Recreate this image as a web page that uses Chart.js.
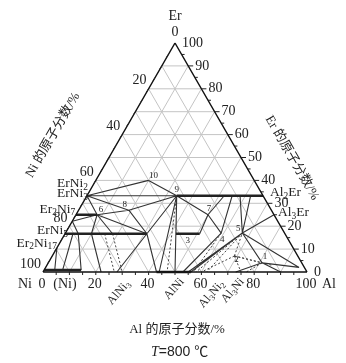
<!DOCTYPE html>
<html>
<head>
<meta charset="utf-8">
<script src="https://cdn.jsdelivr.net/npm/chart.js@4.4.0/dist/chart.umd.min.js"></script>
<style>
  html, body { margin: 0; padding: 0; background: #fff; }
  #wrap { width: 346px; height: 363px; }
</style>
</head>
<body>
<div id="wrap"><canvas id="chart"></canvas></div>
<script>
// compositions are [Al, Er] in at.%  (Ni = 100 - Al - Er)
const gridSteps = [10, 20, 30, 40, 50, 60, 70, 80, 90];
const minorTicks = [5, 10, 15, 20, 25, 30, 35, 40, 45, 50, 55, 60, 65, 70, 75, 80, 85, 90, 95];
const erTicks = [100, 90, 80, 70, 60, 50, 40, 30, 20, 10, 0];
const niTicks = [20, 40, 60, 80, 100];
const alTicks = [0, 20, 40, 60, 80, 100];

const erNiPhases = [['ErNi2', 33.3], ['ErNi3', 25], ['Er2Ni7', 22.2], ['ErNi5', 16.7], ['Er2Ni17', 10.5]];
const alErPhases = [['Al2Er', 33.3], ['Al3Er', 25]];
const alNiPhases = [['AlNi3', 25], ['AlNi', 50], ['Al3Ni2', 60], ['Al3Ni', 75]];

const ternaryPoints = [
  ['10', 20, 40], ['9', 34, 33.3], ['8', 19, 27], ['6', 8, 25], ['7', 50, 25],
  ['3', 46.5, 16.7], ['4', 59, 17], ['5', 67, 17], ['2', 69, 7], ['1', 81, 4]
];

// single-phase ranges (heavy lines)
const thickLines = [
  [[0, 16.7], [31, 16.7]],
  [[0, 25], [8, 25]],
  [[34, 33.3], [66.7, 33.3]],
  [[42, 16.7], [51, 16.7]],
  [[43, 0], [56, 0]],
  [[0, 0.9], [14, 0.9]]
];

// phase boundaries
const solidLines = [
  [[0, 33.3], [20, 40]],
  [[20, 40], [34, 33.3]],
  [[0, 33.3], [34, 33.3]],
  [[0, 33.3], [19, 27]],
  [[19, 27], [34, 33.3]],
  [[8, 25], [19, 27]],
  [[0, 33.3], [8, 25]],
  [[19, 27], [31, 16.7]],
  [[8, 25], [31, 16.7]],
  [[8, 25], [10, 16.7]],
  [[8, 25], [18, 16.7]],
  [[0, 22.2], [8, 25]],
  [[0, 22.2], [5, 16.7]],
  [[31, 16.7], [34, 33.3]],
  [[0, 10.5], [4, 0.9]],
  [[3, 16.7], [7, 0.9]],
  [[5, 16.7], [14, 0.9]],
  [[10, 16.7], [22, 0]],
  [[31, 16.7], [28, 0]],
  [[31, 16.7], [43, 0]],
  [[42, 16.7], [34, 33.3]],
  [[34, 33.3], [44, 0]],
  [[34, 33.3], [50, 0]],
  [[51, 16.7], [50, 25]],
  [[34, 33.3], [50, 25]],
  [[50, 25], [59, 17]],
  [[50, 25], [52, 33.3]],
  [[59, 17], [55, 33.3]],
  [[67, 17], [58, 33.3]],
  [[67, 17], [62, 33.3]],
  [[67, 17], [75, 25]],
  [[59, 17], [53, 0]],
  [[67, 17], [55, 0]],
  [[67, 17], [56, 0]],
  [[67, 17], [81, 4]],
  [[67, 17], [96, 2]],
  [[81, 4], [73, 0]],
  [[81, 4], [96, 2]],
  [[81, 4], [90, 0]]
];

// tie lines
const dottedLines = [
  [[15, 16.7], [27, 0]],
  [[18, 16.7], [30, 0]],
  [[34, 33.3], [47, 0]],
  [[67, 17], [58, 0]],
  [[67, 17], [62, 0]],
  [[69, 7], [60, 0]],
  [[69, 7], [75, 0]],
  [[69, 7], [67, 17]],
  [[69, 7], [81, 4]],
  [[81, 4], [77, 0]],
  [[69, 7], [85, 3]],
  [[59, 17], [57, 0]]
];

const H = Math.sqrt(3) / 2;
const toXY = p => ({ x: p[0] + p[1] / 2, y: p[1] * H });

function segData(segs) {
  const out = [];
  segs.forEach(s => {
    s.forEach(p => out.push(toXY(p)));
    out.push({ x: NaN, y: NaN });
  });
  return out;
}

let gridSegs = [];
gridSteps.forEach(v => {
  gridSegs.push([[0, v], [100 - v, v]]);
  gridSegs.push([[v, 0], [v, 100 - v]]);
  gridSegs.push([[100 - v, 0], [0, 100 - v]]);
});
const border = [[[0, 0], [100, 0]], [[100, 0], [0, 100]], [[0, 100], [0, 0]]];

function lineSet(segs, color, width, dash, order) {
  return {
    data: segData(segs),
    showLine: true,
    borderColor: color,
    borderWidth: width,
    borderDash: dash,
    pointRadius: 0,
    spanGaps: false,
    clip: false,
    order: order
  };
}

const SERIF = '"Liberation Serif", "DejaVu Serif", serif';

function chemText(ctx, str, x, y, size, align) {
  const parts = str.match(/[A-Za-z]+|\d+/g);
  let w = 0;
  parts.forEach(p => {
    const sub = /\d/.test(p);
    ctx.font = (sub ? size * 0.7 : size) + 'px ' + SERIF;
    w += ctx.measureText(p).width;
  });
  let cx = align === 'right' ? x - w : align === 'center' ? x - w / 2 : x;
  ctx.textAlign = 'left';
  ctx.textBaseline = 'middle';
  parts.forEach(p => {
    const sub = /\d/.test(p);
    ctx.font = (sub ? size * 0.7 : size) + 'px ' + SERIF;
    ctx.fillText(p, cx, sub ? y + size * 0.28 : y);
    cx += ctx.measureText(p).width;
  });
}

const labelPlugin = {
  id: 'labels',
  afterDraw(chart) {
    const ctx = chart.ctx;
    const xs = chart.scales.x, ys = chart.scales.y;
    const px = p => { const c = toXY(p); return [xs.getPixelForValue(c.x), ys.getPixelForValue(c.y)]; };
    ctx.save();
    ctx.fillStyle = '#222';
    ctx.strokeStyle = '#222';
    ctx.lineWidth = 1;

    // edge ticks
    minorTicks.forEach(v => {
      const long = v % 10 === 0;
      let [x, y] = px([100 - v, v]);
      ctx.beginPath(); ctx.moveTo(x, y); ctx.lineTo(x + (long ? 5 : 3), y); ctx.stroke();
      [x, y] = px([0, 100 - v]);
      ctx.beginPath(); ctx.moveTo(x, y); ctx.lineTo(x - 2, y + 3); ctx.stroke();
      [x, y] = px([v, 0]);
      ctx.beginPath(); ctx.moveTo(x, y); ctx.lineTo(x, y + 3); ctx.stroke();
    });

    ctx.font = '14px ' + SERIF;
    ctx.textBaseline = 'middle';
    // Er axis (right)
    ctx.textAlign = 'left';
    erTicks.forEach(v => {
      const [x, y] = px([100 - v, v]);
      ctx.fillText(String(v), x + 7, y);
    });
    // Ni axis (left)
    ctx.textAlign = 'right';
    niTicks.forEach(v => {
      const [x, y] = px([0, 100 - v]);
      ctx.fillText(String(v), x - 2, y - 8);
    });
    ctx.textAlign = 'center';
    let [ax, ay] = px([0, 100]);
    ctx.fillText('0', ax, ay - 11);
    ctx.fillText('Er', ax, ay - 27);
    // Al axis (bottom)
    alTicks.forEach(v => {
      const [x, y] = px([v, 0]);
      ctx.fillText(String(v), x - 1, y + 12);
    });
    let [nx, ny] = px([0, 0]);
    ctx.fillText('Ni', nx - 18, ny + 12);
    ctx.fillText('(Ni)', nx + 22, ny + 12);
    let [lx, ly] = px([100, 0]);
    ctx.fillText('Al', lx + 22, ly + 12);

    // phase labels
    const erNiOff = [[1, -12], [12, -21], [3, -12], [3, -3], [0, -5]];
    erNiPhases.forEach((p, i) => {
      const [x, y] = px([0, p[1]]);
      chemText(ctx, p[0], x + erNiOff[i][0], y + erNiOff[i][1], 13.5, 'right');
    });
    const alErOff = [[7, -3], [4, -2]];
    alErPhases.forEach((p, i) => {
      const [x, y] = px([100 - p[1], p[1]]);
      chemText(ctx, p[0], x + alErOff[i][0], y + alErOff[i][1], 13.5, 'left');
    });
    const alNiOff = [[19, 10], [7, 8], [21, 10], [1, 8]];
    alNiPhases.forEach((p, i) => {
      const [x, y] = px([p[1], 0]);
      ctx.save();
      ctx.translate(x + alNiOff[i][0], y + alNiOff[i][1]);
      ctx.rotate(-Math.PI * 0.27);
      chemText(ctx, p[0], 0, 0, 12, 'right');
      ctx.restore();
    });

    // ternary phase numbers
    const numOff = [[5, -5], [0, -6], [-4, -6], [4, -5], [1, -6], [0, 7], [1, 7], [-4, -4], [2, 4], [3, -6]];
    ctx.font = '9px ' + SERIF;
    ctx.textAlign = 'center';
    ctx.textBaseline = 'middle';
    ternaryPoints.forEach((p, i) => {
      const [x, y] = px([p[1], p[2]]);
      ctx.fillText(p[0], x + numOff[i][0], y + numOff[i][1]);
    });

    // axis titles
    const cjk = '13px "Liberation Serif", "Noto Sans CJK SC", serif';
    ctx.font = cjk;
    ctx.save();
    ctx.translate(53, 135);
    ctx.rotate(-Math.PI / 3);
    ctx.fillText('Ni 的原子分数/%', 0, 0);
    ctx.restore();
    ctx.save();
    ctx.translate(292, 158);
    ctx.rotate(Math.PI / 3);
    ctx.fillText('Er 的原子分数/%', 0, 0);
    ctx.restore();
    ctx.fillText('Al 的原子分数/%', 177, 330);

    ctx.font = 'italic 14px ' + SERIF;
    ctx.textAlign = 'left';
    ctx.fillText('T', 151, 352);
    const tw = ctx.measureText('T').width;
    ctx.font = '14px "Liberation Sans", "Noto Sans CJK SC", sans-serif';
    ctx.fillText('=800 ℃', 151 + tw, 352);
    ctx.restore();
  }
};

new Chart(document.getElementById('chart').getContext('2d'), {
  type: 'scatter',
  data: {
    datasets: [
      lineSet(border, '#111', 1.5, [], 0),
      lineSet(thickLines, '#222', 2.6, [], 1),
      lineSet(solidLines, '#333', 1.1, [], 2),
      lineSet(dottedLines, '#444', 1, [2, 2], 3),
      lineSet(gridSegs, '#c4c4c4', 1, [], 10)
    ]
  },
  options: {
    responsive: true,
    maintainAspectRatio: false,
    animation: false,
    layout: { padding: { left: 43, right: 39, top: 43, bottom: 91 } },
    plugins: { legend: { display: false }, tooltip: { enabled: false } },
    scales: {
      x: { type: 'linear', min: 0, max: 100, display: false },
      y: { type: 'linear', min: 0, max: 100 * H, display: false }
    }
  },
  plugins: [labelPlugin]
});
</script>
</body>
</html>
